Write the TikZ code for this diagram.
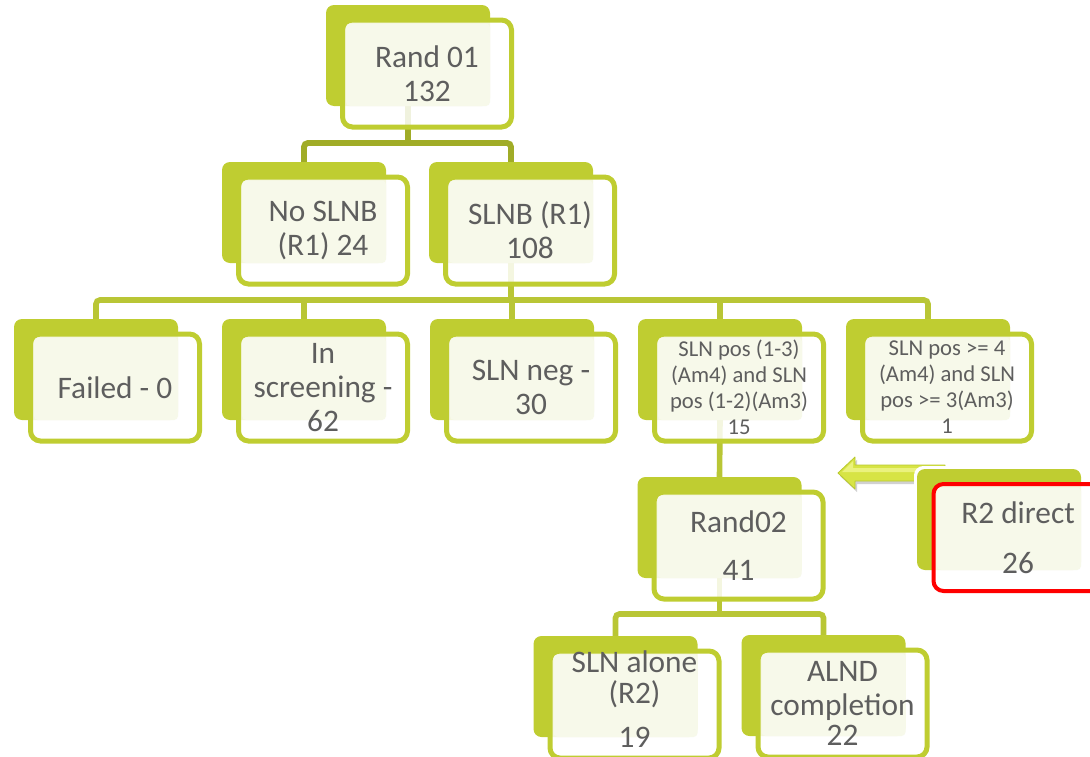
\documentclass[tikz,border=0pt]{standalone}
\usepackage{fontspec}
\setmainfont{Carlito}
\usetikzlibrary{backgrounds,calc}
\definecolor{boxgreen}{HTML}{BFCD31}
\definecolor{conndark}{HTML}{A0AC27}
\definecolor{connlight}{HTML}{B9C635}
\definecolor{pale}{HTML}{F7F9EA}
\definecolor{txtgray}{HTML}{5E5E5E}
\definecolor{arrowfill}{HTML}{D7E445}
\definecolor{arrowhi}{HTML}{EAF27E}
\definecolor{arrowedge}{HTML}{B8C82C}
\tikzset{
 backbox/.style={anchor=north west, fill=boxgreen, rounded corners=6pt, minimum width=123pt, minimum height=75.75pt, inner sep=0pt, outer sep=0pt},
 framebox/.style={anchor=north west, draw=boxgreen, line width=3.75pt, fill=white, fill opacity=0.85, rounded corners=7.5pt, minimum width=126.75pt, minimum height=80.25pt, inner sep=0pt, outer sep=0pt},
 redframe/.style={draw=red, line width=3pt},
 bigtxt/.style={text=txtgray, align=center, font=\fontsize{23.5}{25.5}\selectfont, inner sep=0pt},
 smalltxt/.style={text=txtgray, align=center, font=\fontsize{17}{19.5}\selectfont, inner sep=0pt},
 connA/.style={draw=conndark, line width=4.4pt, rounded corners=3pt},
 connB/.style={draw=connlight, line width=4.2pt, rounded corners=3pt},
}
\newcommand{\smartbox}[6]{%
 \node[backbox] (#1b) at (#2,#3) {};
 \node[framebox,#5] (#1) at ($(#2,#3)+(16.5,15)$) {};
 \fill[pale, rounded corners=3pt] ($(#1.north west)+(3.5,3.5)$) rectangle (#1b.south east);
 \node[#6] (#1t) at (#1.center) {#4};
}
\begin{document}
\begin{tikzpicture}[x=0.75pt,y=-0.75pt]
\useasboundingbox (0,0) rectangle (1090,757);
\smartbox{r01}{326}{5}{Rand 01\\132}{}{bigtxt}
\smartbox{nsb}{222}{162}{No SLNB\\(R1) 24}{}{bigtxt}
\smartbox{slnb}{429}{162}{SLNB (R1)\\108}{}{bigtxt}
\smartbox{fail}{14}{319}{Failed - 0}{}{bigtxt}
\smartbox{scr}{222}{319}{In\\screening -\\62}{}{bigtxt}
\smartbox{neg}{430}{319}{SLN neg -\\30}{}{bigtxt}
\smartbox{posa}{638}{319}{SLN pos (1-3)\\(Am4) and SLN\\pos (1-2)(Am3)\\15}{}{smalltxt}
\smartbox{posb}{846}{319}{SLN pos >= 4\\(Am4) and SLN\\pos >= 3(Am3)\\1}{}{smalltxt}
\smartbox{rtwo}{637.5}{477}{Rand02\\[10.5pt]41}{}{bigtxt}
% arrow pointing to Rand02
\fill[black, opacity=0.18] (840,476) -- (857,460) -- (857,468) -- (945,468) -- (945,484) -- (857,484) -- (857,492) -- cycle;
\fill[arrowfill, draw=arrowedge, line width=0.6pt, line join=round]
  (838,473) -- (855,457) -- (855,465) -- (945,465) -- (945,481) -- (855,481) -- (855,489) -- cycle;
\fill[arrowhi] (842,472) -- (853,461) -- (853,468) -- (945,468) -- (945,472) -- cycle;
\fill[white, rounded corners=7pt] (914,466) rectangle (1084,574);
\smartbox{rdir}{917}{469}{R2 direct\\[12pt]26}{redframe}{bigtxt}
\smartbox{alone}{533.5}{636}{SLN alone\\[-2.5pt](R2)\\[7.5pt]19}{}{bigtxt,yshift=4pt}
\smartbox{alnd}{741.5}{635}{ALND\\completion\\[-3pt]22}{}{bigtxt}
\begin{scope}[on background layer]
\coordinate (j1) at (408,143);
\coordinate (j2) at (511,300);
\coordinate (j3) at (719.5,614);
\draw[connA] (r01b.south) -- (j1);
\draw[connA] (nsbb.north) |- (j1) -| (slnbb.north);
\draw[connB] (slnbb.south) -- (j2);
\draw[connB] (failb.north) |- (j2) -| (posbb.north);
\draw[connB] (scrb.north) -- (scrb.north |- j2);
\draw[connB] (negb.north) -- (negb.north |- j2);
\draw[connB] (posab.north) -- (posab.north |- j2);
\draw[connB] (posab.south) -- (rtwob.north);
\draw[connB] (rtwob.south) -- (j3);
\draw[connB] (aloneb.north) |- (j3) -| (alndb.north);
\end{scope}
\end{tikzpicture}
\end{document}
